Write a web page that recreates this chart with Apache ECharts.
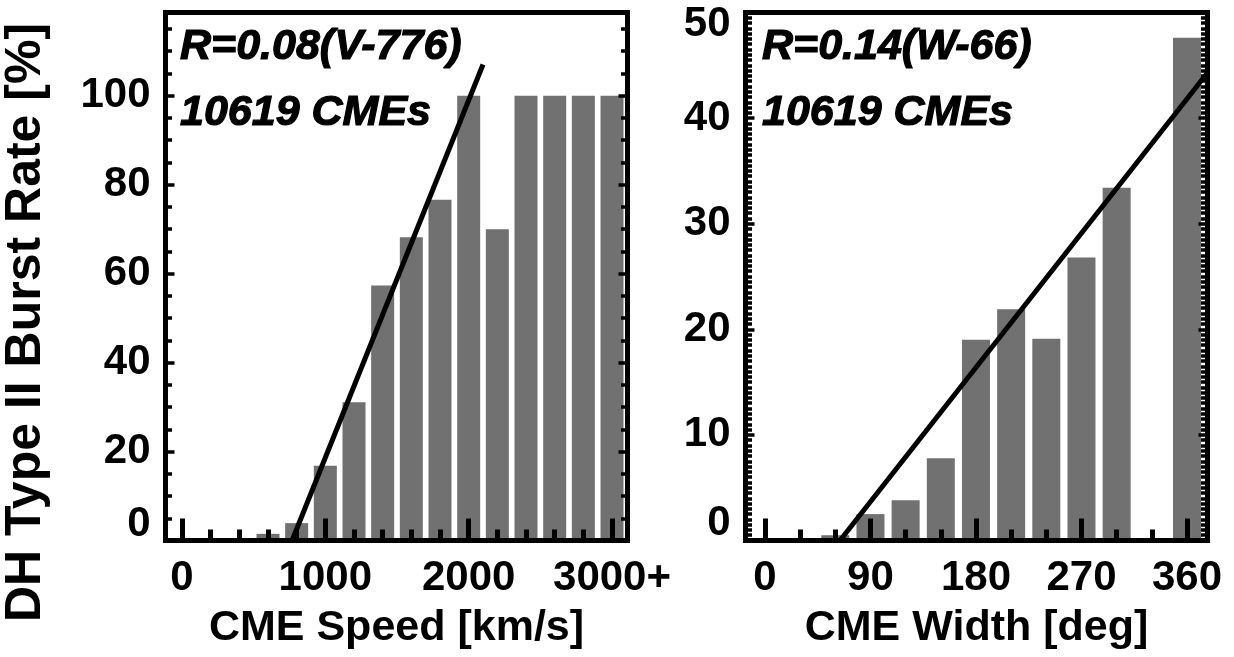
<!DOCTYPE html>
<html><head><meta charset="utf-8">
<script src="https://cdn.jsdelivr.net/npm/echarts@6/dist/echarts.min.js"></script>
<style>html,body{margin:0;padding:0;background:#fff}#c{width:1234px;height:657px}</style>
</head><body><div id="c"></div>
<script>
// ---- data ----
const speedBins = [0,200,400,600,800,1000,1200,1400,1600,1800,2000,2200,2400,2600,2800,3000];
const speedRate = [0,0,0,1.5,3.9,16.8,31.1,57.3,68.2,76.6,100,70.0,100,100,100,100];
const widthBins = [0,30,60,90,120,150,180,210,240,270,300,330,360];
const widthRate = [0,0,0.5,2.5,3.8,7.8,19.0,21.9,19.1,26.8,33.4,0,47.6];
const speedFit = [[768,0],[2100,107]];
const widthFit = [[64,0],[377.5,44.3]];
// ---- ticks / labels ----
const speedMajor = [0,1000,2000,3000];
const speedLabels = ['0','1000','2000','3000+'];
const speedMinor = [200,400,600,800,1200,1400,1600,1800,2200,2400,2600,2800];
const widthMajor = [0,90,180,270,360];
const widthLabels = ['0','90','180','270','360'];
const widthMinor = [30,60,120,150,210,240,300,330];
const rateMajor = [0,20,40,60,80,100];
const rateMinor = [5,10,15,25,30,35,45,50,55,65,70,75,85,90,95,105,110,115];
const pctMajor = [0,10,20,30,40,50];
const pctMinor = [];
for (let v = 0.5; v < 50; v += 0.5) { if (v % 10 !== 0) pctMinor.push(v); }

const FONT = 'Liberation Sans';
const lab = {fontFamily: FONT, fontWeight: 'bold', fontSize: 42, color: '#000'};
const frameLine = {show: true, onZero: false, lineStyle: {color: '#000', width: 5, cap: 'square'}};
const noLine = {show: false, onZero: false};

function xAxes(grid, min, max, major, labels, minor, name) {
  return [
    {type:'value', gridIndex:grid, min, max, position:'bottom', z:10,
     axisLine: frameLine, splitLine:{show:false},
     axisTick:{show:true, inside:true, length:22, customValues:major, lineStyle:{color:'#000', width:5}},
     axisLabel:{show:true, customValues:major, margin:17, ...lab,
       formatter: v => { const i = major.indexOf(v); return i >= 0 ? labels[i] : ''; }},
     name, nameLocation:'middle', nameGap:66, nameTextStyle:{...lab, fontSize:43}},
    {type:'value', gridIndex:grid, min, max, position:'bottom', z:10,
     axisLine: noLine, splitLine:{show:false}, axisLabel:{show:false},
     axisTick:{show:true, inside:true, length:11, customValues:minor, lineStyle:{color:'#000', width:5}}},
    {type:'value', gridIndex:grid, min, max, position:'top', z:10,
     axisLine: frameLine, splitLine:{show:false}, axisLabel:{show:false}, axisTick:{show:false}}
  ];
}
function yAxes(grid, min, max, major, minor, rich, fmt) {
  const mk = (pos, ticks, len, withLabel, line) => ({
    type:'value', gridIndex:grid, min, max, position:pos, z:10,
    axisLine: line ? frameLine : noLine, splitLine:{show:false},
    axisTick:{show:true, inside:true, length:len, customValues:ticks, lineStyle:{color:'#000', width:3.5}},
    axisLabel: withLabel ? {show:true, customValues:major, margin:15, ...lab, rich, formatter: fmt} : {show:false}
  });
  return [mk('left', major, 9, true, true), mk('left', minor, 6.5, false, false),
          mk('right', major, 9, false, true), mk('right', minor, 6.5, false, false)];
}
const richL = {lo:{...lab, padding:[0,0,32,0]}};
const richR = {lo:{...lab, padding:[0,0,35,0]}, hi:{...lab, padding:[23,0,0,0]}};

const annot = {fontFamily: FONT, fontWeight:'bold', fontStyle:'italic', fontSize:43, color:'#000',
               textBorderColor:'#000', textBorderWidth:1.2};

const option = {
  animation:false,
  backgroundColor:'#fff',
  title:[
    {text:'R=0.08(V-776)', left:180, top:26, padding:0, textStyle:annot},
    {text:'10619 CMEs', left:180, top:92, padding:0, textStyle:annot},
    {text:'R=0.14(W-66)', left:762, top:26, padding:0, textStyle:annot},
    {text:'10619 CMEs', left:762, top:92, padding:0, textStyle:annot}
  ],
  grid:[
    {left:165.5, top:12.5, width:462, height:528},
    {left:745.5, top:12.5, width:462, height:528},
    {left:165.5, top:0, width:10, height:645}
  ],
  xAxis:[
    ...xAxes(0, -115, 3108, speedMajor, speedLabels, speedMinor, 'CME Speed [km/s]'),
    ...xAxes(1, -16.6, 377.5, widthMajor, widthLabels, widthMinor, 'CME Width [deg]'),
    {type:'value', gridIndex:2, show:false, min:0, max:1}
  ],
  yAxis:[
    ...yAxes(0, 0, 118.7, rateMajor, rateMinor, richL, v => v === 0 ? '{lo|0}' : String(v)),
    ...yAxes(1, 0, 50, pctMajor, pctMinor, richR, v => v === 0 ? '{lo|0}' : (v === 50 ? '{hi|50}' : String(v))),
    {type:'value', gridIndex:2, min:0, max:1, position:'left',
     axisLine: noLine, axisTick:{show:false}, axisLabel:{show:false}, splitLine:{show:false},
     name:'DH Type II Burst Rate [%]', nameLocation:'middle', nameRotate:90, nameGap:118,
     nameTextStyle:{...lab, fontSize:50}}
  ],
  series:[
    {type:'bar', xAxisIndex:0, yAxisIndex:0, barWidth:23, z:2,
     itemStyle:{color:'#717171'}, data: speedBins.map((x,i)=>[x, speedRate[i]])},
    {type:'line', xAxisIndex:0, yAxisIndex:0, symbol:'none', z:3,
     lineStyle:{color:'#000', width:5}, data: speedFit},
    {type:'bar', xAxisIndex:3, yAxisIndex:4, barWidth:28, z:2,
     itemStyle:{color:'#717171'}, data: widthBins.map((x,i)=>[x, widthRate[i]])},
    {type:'line', xAxisIndex:3, yAxisIndex:4, symbol:'none', z:3,
     lineStyle:{color:'#000', width:5}, data: widthFit}
  ]
};
echarts.init(document.getElementById('c'), null, {renderer:'canvas'}).setOption(option);
</script></body></html>
